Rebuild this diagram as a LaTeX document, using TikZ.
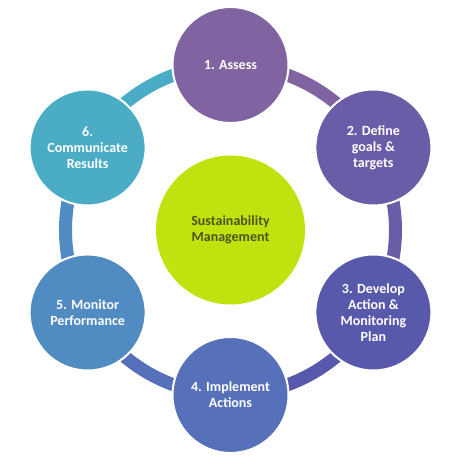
\documentclass[tikz,border=0pt]{standalone}
\usepackage{fontspec}
\setmainfont{Carlito}
\usetikzlibrary{calc}
\definecolor{cA}{RGB}{128,100,162}
\definecolor{cB}{RGB}{106,92,166}
\definecolor{cC}{RGB}{89,89,171}
\definecolor{cD}{RGB}{86,113,186}
\definecolor{cE}{RGB}{80,139,193}
\definecolor{cF}{RGB}{75,172,198}
\definecolor{cMid}{RGB}{192,226,14}
\definecolor{cMidText}{RGB}{80,82,30}
\tikzset{
  stage/.style={circle, draw=white, line width=2pt, minimum size=116pt, inner sep=0pt,
    text=white, font=\bfseries\fontsize{14}{16}\selectfont, align=center},
  hub/.style={circle, fill=cMid, minimum size=149pt, inner sep=0pt,
    text=cMidText, font=\bfseries\fontsize{14}{16}\selectfont, align=center},
  ring/.style={line width=13pt}
}
\begin{document}
\begin{tikzpicture}[x=1pt,y=1pt]
\useasboundingbox (0,0) rectangle (460,470);
\coordinate (o) at (230.5,240);
% ring segments
\draw[ring, cA] (o) ++(90:165) arc[start angle=90, end angle=30, radius=165];
\draw[ring, cB] (o) ++(30:165) arc[start angle=30, end angle=-30, radius=165];
\draw[ring, cC] (o) ++(-30:165) arc[start angle=-30, end angle=-90, radius=165];
\draw[ring, cD] (o) ++(-90:165) arc[start angle=-90, end angle=-150, radius=165];
\draw[ring, cE] (o) ++(210:165) arc[start angle=210, end angle=150, radius=165];
\draw[ring, cF] (o) ++(150:165) arc[start angle=150, end angle=90, radius=165];
% hub
\node[hub] (hub) at (o) {Sustainability\\Management};
% stages
\node[stage, fill=cA] (s1) at ($(o)+(90:165)$) {1. Assess};
\node[stage, fill=cB] (s2) at ($(o)+(30:165)$) {2. Define\\goals \&\\targets};
\node[stage, fill=cC] (s3) at ($(o)+(-30:165)$) {3. Develop\\Action \&\\Monitoring\\Plan};
\node[stage, fill=cD] (s4) at ($(o)+(-90:165)$) {4. Implement\\Actions};
\node[stage, fill=cE] (s5) at ($(o)+(210:165)$) {5. Monitor\\Performance};
\node[stage, fill=cF] (s6) at ($(o)+(150:165)$) {6.\\Communicate\\Results};
\end{tikzpicture}
\end{document}
